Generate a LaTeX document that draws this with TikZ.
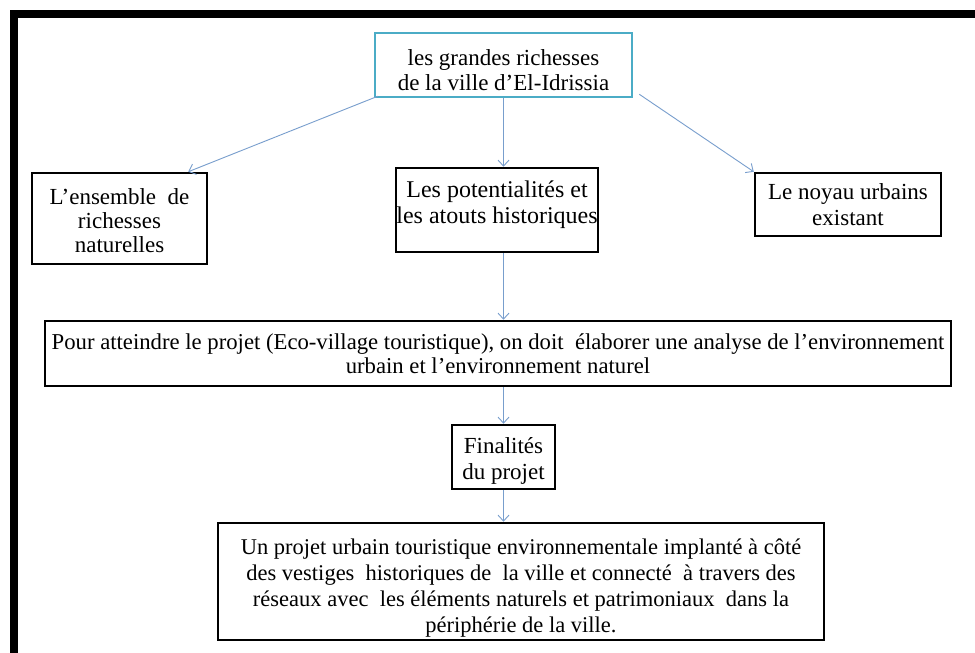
\documentclass[tikz,border=0pt]{standalone}
\usepackage{fontspec}
\setmainfont{Liberation Serif}
\usetikzlibrary{arrows.meta,calc}
\definecolor{tealb}{RGB}{75,172,198}
\definecolor{arrowc}{RGB}{120,158,205}
\newcommand\dnstrut[1]{\rule{0pt}{#1pt}}
\begin{document}
\begin{tikzpicture}[x=1pt,y=-1pt,
  box/.style={draw=black, line width=2.5pt, align=center, inner sep=0pt, font=\fontsize{23}{25.5}\selectfont},
  conn/.style={draw=arrowc, line width=0.9pt, -{Straight Barb[length=6pt,width=11pt]}}]
\useasboundingbox (0,0) rectangle (975,653);
\fill[white] (0,0) rectangle (975,653);
\fill[black] (10,10) rectangle (975,18);
\fill[black] (10,10) rectangle (18,653);

\node[box, draw=tealb, minimum width=257, minimum height=64] (top) at (503.5,65) {\dnstrut{26}les grandes richesses\\de la ville d’El-Idrissia};
\node[box, minimum width=175, minimum height=91, font=\fontsize{23}{24}\selectfont] (left) at (119.5,218.5) {\dnstrut{20}L’ensemble\ \ de\\richesses\\naturelles};
\node[box, minimum width=202, minimum height=84, font=\fontsize{24}{26}\selectfont] (mid) at (497,210) {\dnstrut{26.5}Les potentialités et\\les atouts historiques\\\mbox{}};
\node[box, minimum width=186, minimum height=63] (right) at (848,204.5) {Le noyau urbains\\existant};
\node[box, minimum width=906, minimum height=65, font=\fontsize{22.7}{23.5}\selectfont] (wide) at (498,353.5) {Pour atteindre le projet (Eco-village touristique), on doit\ \ élaborer une analyse de l’environnement\\urbain et l’environnement naturel};
\node[box, minimum width=103, minimum height=64] (fin) at (503.5,457) {\dnstrut{24}Finalités\\du projet};
\node[box, minimum width=606, minimum height=117, font=\fontsize{22.5}{26}\selectfont] (bot) at (521,581.5) {\dnstrut{29.5}Un projet urbain touristique environnementale implanté à côté\\des vestiges\ \ historiques de\ \ la ville et connecté\ \ à travers des\\réseaux avec\ \ les éléments naturels et patrimoniaux\ \ dans la\\périphérie de la ville.};

\draw[conn] ([xshift=4pt,yshift=2pt]top.south west) -- ([xshift=-20pt]left.north east);
\draw[conn] ([xshift=6pt,yshift=4pt]top.south east) -- (right.north west);
\draw[conn] (top.south) -- (top.south |- mid.north);
\draw[conn] (top.south |- mid.south) -- (top.south |- wide.north);
\draw[conn] (top.south |- wide.south) -- (top.south |- fin.north);
\draw[conn] (fin.south) -- (fin.south |- bot.north);
\end{tikzpicture}
\end{document}
